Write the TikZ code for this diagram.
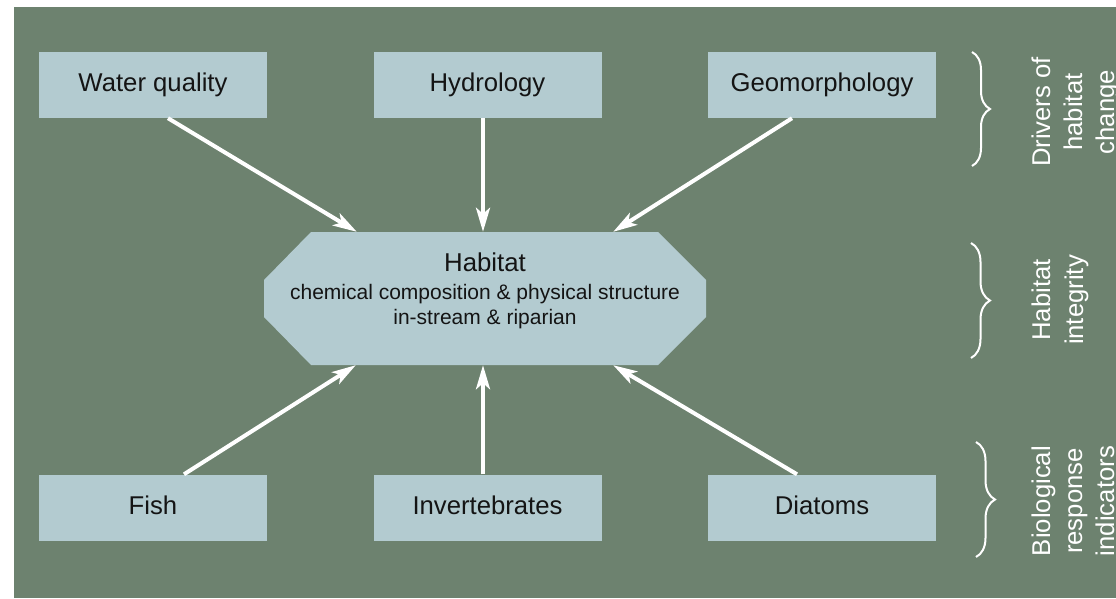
\documentclass[tikz,border=0pt]{standalone}
\usepackage{fontspec}
\setmainfont{Liberation Sans}
\usetikzlibrary{arrows.meta,calc,decorations.pathreplacing}
\definecolor{bggreen}{RGB}{109,130,111}
\definecolor{boxblue}{RGB}{179,203,208}
\definecolor{ink}{RGB}{20,20,20}
\begin{document}
\begin{tikzpicture}[x=1pt,y=-1pt,
  box/.style={fill=boxblue, minimum width=228pt, minimum height=66pt, inner sep=0pt,
    text=ink, text height=18.5pt, text depth=4.5pt, font=\fontsize{25.7}{30}\selectfont},
  flow/.style={draw=white, line width=4pt, -{Stealth[length=24pt,width=14pt,inset=6pt]}},
  bracket/.style={draw=white, line width=2pt, decorate, decoration={brace, amplitude=19pt}},
  side/.style={text=white, rotate=90, anchor=base, inner sep=0pt, font=\fontsize{25.7}{30}\selectfont},
  habtext/.style={anchor=base, inner sep=0pt, text=ink},
]
\useasboundingbox (0,0) rectangle (1116,599);
\fill[white] (0,0) rectangle (1116,599);
\fill[bggreen] (14,7) rectangle (1116,598);

% central octagon
\fill[boxblue] (311,232) -- (658,232) -- (706,280) -- (706,317) -- (658,365)
  -- (311,365) -- (264,317) -- (264,280) -- cycle;
\node[minimum width=442pt, minimum height=133pt, inner sep=0pt] (hab) at (485,298.5) {};
\node[habtext, font=\fontsize{25.8}{30}\selectfont] (habt) at (485,271) {Habitat};
\node[habtext, font=\fontsize{21}{25}\selectfont] (habc) at (485,299) {chemical composition \& physical structure};
\node[habtext, font=\fontsize{21}{25}\selectfont] (habs) at (485,324) {in-stream \& riparian};

% boxes
\node[box] (wq)   at (153,85)    {Water quality};
\node[box] (hyd)  at (487.5,85)  {Hydrology};
\node[box] (geo)  at (822,85)    {Geomorphology};
\node[box] (fish) at (153,507.5) {Fish};
\node[box] (inv)  at (487.5,507.5) {Invertebrates};
\node[box] (dia)  at (822,507.5) {Diatoms};

% arrows
\draw[flow] ($(wq.south)+(15,0)$) -- ($(hab.north west)+(93,0)$);
\draw[flow] ($(hyd.south)+(-4.5,0)$) -- ($(hab.north)+(-2,0)$);
\draw[flow] ($(geo.south)+(-30,0)$) -- ($(hab.north east)+(-93,0)$);
\draw[flow] ($(fish.north)+(31,0)$) -- ($(hab.south west)+(92,0)$);
\draw[flow] ($(inv.north)+(-4.5,0)$) -- ($(hab.south)+(-2,0)$);
\draw[flow] ($(dia.north)+(-25,0)$) -- ($(hab.south east)+(-93,0)$);

% braces
\draw[bracket, decoration={brace, amplitude=18pt}] (972,52) -- (972,166);
\draw[bracket] (971,243) -- (971,358);
\draw[bracket] (976,442) -- (976,557);

% side labels
\node[side] (d1) at (1050,112) {Drivers of};
\node[side] (d2) at (1082,112) {habitat};
\node[side] (d3) at (1114,112) {change};
\node[side] (h1) at (1050,300) {Habitat};
\node[side] (h2) at (1083,300) {integrity};
\node[side] (b1) at (1050,501) {Biological};
\node[side] (b2) at (1082,501) {response};
\node[side] (b3) at (1114,501) {indicators};
\end{tikzpicture}
\end{document}
